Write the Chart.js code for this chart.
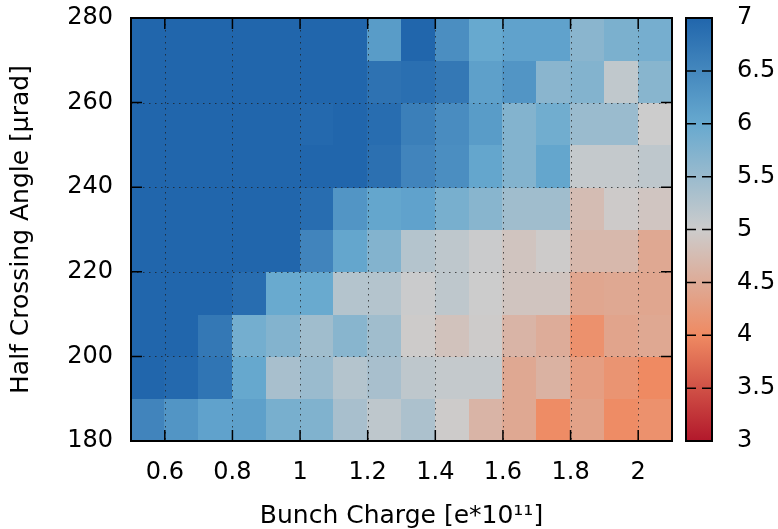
<!DOCTYPE html>
<html>
<head>
<meta charset="utf-8">
<script src="https://cdn.jsdelivr.net/npm/chart.js@4.4.0/dist/chart.umd.min.js"></script>
<style>
  html, body { margin: 0; padding: 0; background: #fff; }
  #wrap { width: 778px; height: 529px; }
</style>
</head>
<body>
<div id="wrap"><canvas id="heat" width="778" height="529"></canvas></div>
<script>
// ── DATA ──
// lower edge of each bin
const CHARGE = [0.5, 0.6, 0.7, 0.8, 0.9, 1.0, 1.1, 1.2, 1.3, 1.4, 1.5, 1.6, 1.7, 1.8, 1.9, 2.0]; // [e*10^11]
const ANGLE  = [180, 190, 200, 210, 220, 230, 240, 250, 260, 270];                               // [µrad]
const CHARGE_BIN = 0.1;
const ANGLE_BIN  = 10;

// one row per angle, bottom (180) first
const VALUES = [
  [6.55, 6.30, 6.10, 6.13, 5.83, 5.75, 5.36, 5.14, 5.32, 4.98, 4.64, 4.45, 4.03, 4.36, 4.03, 4.10],
  [7.00, 6.95, 6.78, 6.02, 5.36, 5.50, 5.24, 5.36, 5.14, 5.08, 5.08, 4.45, 4.60, 4.30, 4.15, 4.00],
  [7.00, 7.00, 6.73, 5.87, 5.72, 5.44, 5.67, 5.44, 4.98, 4.85, 4.98, 4.64, 4.52, 4.10, 4.40, 4.45],
  [7.00, 7.00, 7.00, 6.90, 5.98, 5.98, 5.24, 5.24, 5.02, 5.14, 5.00, 4.88, 4.88, 4.42, 4.45, 4.42],
  [7.00, 7.00, 7.00, 7.00, 7.00, 6.55, 6.05, 5.72, 5.24, 5.14, 5.02, 4.88, 4.98, 4.70, 4.70, 4.45],
  [7.00, 7.00, 7.00, 7.00, 7.00, 6.90, 6.30, 6.05, 6.10, 5.83, 5.67, 5.44, 5.44, 4.76, 4.97, 4.90],
  [7.00, 7.00, 7.00, 7.00, 7.00, 7.00, 7.00, 6.85, 6.55, 6.40, 6.05, 5.72, 6.05, 5.08, 5.08, 5.14],
  [7.00, 7.00, 7.00, 7.00, 7.00, 6.95, 7.00, 6.90, 6.63, 6.43, 6.20, 5.72, 5.90, 5.50, 5.50, 5.00],
  [7.00, 7.00, 7.00, 7.00, 7.00, 7.00, 7.00, 6.82, 6.87, 6.73, 6.13, 6.30, 5.65, 5.72, 5.12, 5.67],
  [7.00, 7.00, 7.00, 7.00, 7.00, 7.00, 7.00, 6.20, 7.00, 6.40, 6.00, 6.10, 6.10, 5.65, 5.80, 5.85]
];

const X_TICKS  = [0.6, 0.8, 1, 1.2, 1.4, 1.6, 1.8, 2];
const Y_TICKS  = [180, 200, 220, 240, 260, 280];
const CB_TICKS = [3, 3.5, 4, 4.5, 5, 5.5, 6, 6.5, 7];

// ── PALETTE (red → grey → blue) ──
const PALETTE = [[3, '#b2182b'], [4, '#ef8a62'], [5, '#cccccc'], [6, '#67a9cf'], [7, '#2166ac']];
const CB_MIN = 3, CB_MAX = 7;

function hexToRgb(h) {
  const n = parseInt(h.slice(1), 16);
  return [(n >> 16) & 255, (n >> 8) & 255, n & 255];
}
function colorFor(v) {
  v = Math.max(CB_MIN, Math.min(CB_MAX, v));
  for (let i = 0; i < PALETTE.length - 1; i++) {
    const [a, ca] = PALETTE[i], [b, cb] = PALETTE[i + 1];
    if (v <= b) {
      const t = (v - a) / (b - a), A = hexToRgb(ca), B = hexToRgb(cb);
      return `rgb(${A.map((c, k) => Math.round(c + (B[k] - c) * t)).join(',')})`;
    }
  }
  return PALETTE[PALETTE.length - 1][1];
}

const points = [];
ANGLE.forEach((a, i) => CHARGE.forEach((c, j) => points.push({ x: c, y: a, v: VALUES[i][j] })));

const fmt = v => String(+(+v).toFixed(1));
// keep the tick padding from pushing the plot area around
const noPad = s => { s.paddingTop = 0; s.paddingBottom = 0; s.paddingLeft = 0; s.paddingRight = 0; };

// ── HEATMAP + FRAME PLUGIN ──
const heatmapPlugin = {
  id: 'heatmap',
  beforeDatasetsDraw(chart) {
    const { ctx, scales: { x, y } } = chart;
    ctx.save();
    chart.data.datasets[0].data.forEach(p => {
      const x0 = Math.floor(x.getPixelForValue(p.x)), x1 = Math.ceil(x.getPixelForValue(p.x + CHARGE_BIN));
      const y0 = Math.floor(y.getPixelForValue(p.y + ANGLE_BIN)), y1 = Math.ceil(y.getPixelForValue(p.y));
      ctx.fillStyle = colorFor(p.v);
      ctx.fillRect(x0, y0, x1 - x0, y1 - y0);
    });
    ctx.restore();
  },
  afterDatasetsDraw(chart) {
    const { ctx, chartArea: ca, scales: { x, y, cb } } = chart;
    ctx.save();

    // dotted grid
    ctx.strokeStyle = 'rgba(30,30,30,0.75)';
    ctx.lineWidth = 1;
    ctx.setLineDash([1.5, 4.5]);
    X_TICKS.forEach(v => {
      const px = Math.round(x.getPixelForValue(v)) + 0.5;
      ctx.beginPath(); ctx.moveTo(px, ca.top); ctx.lineTo(px, ca.bottom); ctx.stroke();
    });
    Y_TICKS.slice(1, -1).forEach(v => {
      const py = Math.round(y.getPixelForValue(v)) + 0.5;
      ctx.beginPath(); ctx.moveTo(ca.left, py); ctx.lineTo(ca.right, py); ctx.stroke();
    });
    ctx.setLineDash([]);

    // inward ticks on all four sides
    const TL = 11;
    ctx.strokeStyle = '#000';
    ctx.lineWidth = 1.5;
    X_TICKS.forEach(v => {
      const px = x.getPixelForValue(v);
      ctx.beginPath();
      ctx.moveTo(px, ca.bottom); ctx.lineTo(px, ca.bottom - TL);
      ctx.moveTo(px, ca.top); ctx.lineTo(px, ca.top + TL);
      ctx.stroke();
    });
    Y_TICKS.forEach(v => {
      const py = y.getPixelForValue(v);
      ctx.beginPath();
      ctx.moveTo(ca.left, py); ctx.lineTo(ca.left + TL, py);
      ctx.moveTo(ca.right, py); ctx.lineTo(ca.right - TL, py);
      ctx.stroke();
    });

    // frame
    ctx.lineWidth = 2;
    ctx.strokeRect(ca.left, ca.top, ca.right - ca.left, ca.bottom - ca.top);

    // colour bar
    const bx = ca.right + 14, bw = 26;
    const yTop = cb.getPixelForValue(CB_MAX), yBot = cb.getPixelForValue(CB_MIN);
    const g = ctx.createLinearGradient(0, yBot, 0, yTop);
    PALETTE.forEach(([v, c]) => g.addColorStop((v - CB_MIN) / (CB_MAX - CB_MIN), c));
    ctx.fillStyle = g;
    ctx.fillRect(bx, yTop, bw, yBot - yTop);
    ctx.lineWidth = 1.5;
    CB_TICKS.forEach(v => {
      const py = cb.getPixelForValue(v);
      ctx.beginPath();
      ctx.moveTo(bx, py); ctx.lineTo(bx + 10, py);
      ctx.moveTo(bx + bw, py); ctx.lineTo(bx + bw - 10, py);
      ctx.stroke();
    });
    ctx.lineWidth = 2;
    ctx.strokeRect(bx, yTop, bw, yBot - yTop);
    ctx.restore();
  }
};

// ── CHART ──
Chart.defaults.font.family = "'DejaVu Sans', sans-serif";
Chart.defaults.color = '#000';

new Chart(document.getElementById('heat'), {
  type: 'scatter',
  data: { datasets: [{ data: points, pointRadius: 0, pointHoverRadius: 0 }] },
  options: {
    responsive: false,
    animation: false,
    layout: { padding: { top: 18, left: 0, right: 0, bottom: 0 } },
    plugins: { legend: { display: false }, tooltip: { enabled: false } },
    scales: {
      x: {
        type: 'linear', position: 'bottom', min: 0.5, max: 2.1,
        afterBuildTicks: s => { s.ticks = X_TICKS.map(v => ({ value: v })); },
        afterFit: s => { s.height = 88; noPad(s); },
        grid: { display: false, drawTicks: false },
        border: { display: false },
        ticks: { padding: 17, font: { size: 24 }, callback: fmt, maxRotation: 0, autoSkip: false },
        title: { display: true, text: 'Bunch Charge [e*10¹¹]', font: { size: 25, lineHeight: 1 }, padding: { top: 0, bottom: 0 } }
      },
      y: {
        type: 'linear', position: 'left', min: 180, max: 280,
        afterBuildTicks: s => { s.ticks = Y_TICKS.map(v => ({ value: v })); },
        afterFit: s => { s.width = 131; noPad(s); },
        grid: { display: false, drawTicks: false },
        border: { display: false },
        ticks: { padding: 18, font: { size: 24 }, callback: fmt, autoSkip: false },
        title: { display: true, text: 'Half Crossing Angle [µrad]', font: { size: 25, lineHeight: 1 }, padding: { top: 9, bottom: 0 } }
      },
      cb: {
        type: 'linear', position: 'right', min: CB_MIN, max: CB_MAX,
        afterBuildTicks: s => { s.ticks = CB_TICKS.map(v => ({ value: v })); },
        afterFit: s => { s.width = 106; noPad(s); },
        grid: { display: false, drawTicks: false },
        border: { display: false },
        ticks: { padding: 65, font: { size: 24 }, callback: fmt, autoSkip: false }
      }
    }
  },
  plugins: [heatmapPlugin]
});
</script>
</body>
</html>
